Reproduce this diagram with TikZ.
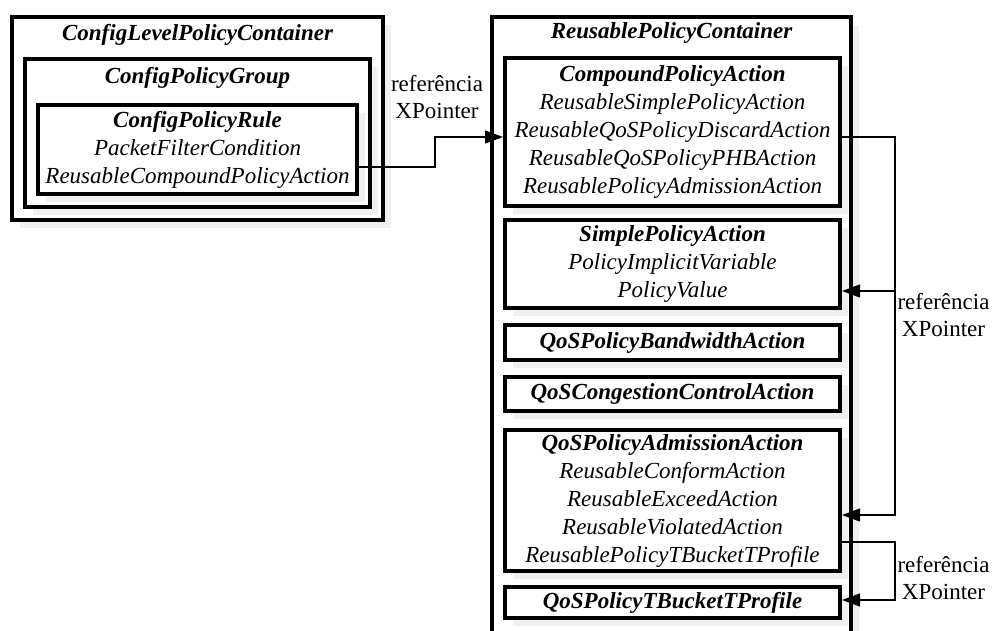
\documentclass[tikz,border=0pt]{standalone}
\usepackage{fontspec}
\setmainfont{Liberation Serif}
\usetikzlibrary{arrows.meta,shadows,calc}
\tikzset{
  box/.style={draw, line width=4pt, fill=white, inner sep=0pt, align=center,
    font=\fontsize{23}{28}\selectfont\itshape,
    drop shadow={shadow xshift=8pt, shadow yshift=-8pt, fill=black!6, opacity=1}},
  ttl/.style={font=\fontsize{23}{28}\selectfont\bfseries\itshape, inner sep=0pt},
  conn/.style={line width=1.3pt},
  arr/.style={conn, -{Triangle[length=18pt,width=13pt]}},
  lbl/.style={align=center, font=\fontsize{23}{27}\selectfont, inner sep=0pt}
}
\begin{document}
\begin{tikzpicture}[x=1pt,y=-1pt]
\useasboundingbox (0,0) rectangle (992,631);
% left side
\node[box, minimum width=371pt, minimum height=203pt] (lcont) at (197.5,118.5) {};
\node[ttl] (lcontt) at (197.5,35) {ConfigLevelPolicyContainer};
\node[box, minimum width=345pt, minimum height=148pt] (grp) at (197.5,133) {};
\node[ttl] (grpt) at (197.5,78) {ConfigPolicyGroup};
\node[box, minimum width=319pt, minimum height=89pt] (rule) at (197.5,149.5)
  {\textbf{ConfigPolicyRule}\\PacketFilterCondition\\ReusableCompoundPolicyAction};
% right side
\node[box, minimum width=359pt, minimum height=643pt] (rcont) at (671.5,338.5) {};
\node[ttl] (rcontt) at (671.5,33) {ReusablePolicyContainer};
\node[box, minimum width=335pt, minimum height=148pt] (cpa) at (672.5,132)
  {\textbf{CompoundPolicyAction}\\ReusableSimplePolicyAction\\ReusableQoSPolicyDiscardAction\\ReusableQoSPolicyPHBAction\\ReusablePolicyAdmissionAction};
\node[box, minimum width=335pt, minimum height=88pt] (spa) at (672.5,264)
  {\textbf{SimplePolicyAction}\\PolicyImplicitVariable\\PolicyValue};
\node[box, minimum width=335pt, minimum height=35pt] (bw) at (672.5,342.5)
  {\textbf{QoSPolicyBandwidthAction}};
\node[box, minimum width=335pt, minimum height=34pt] (cc) at (672.5,394)
  {\textbf{QoSCongestionControlAction}};
\node[box, minimum width=335pt, minimum height=141pt] (adm) at (672.5,500.5)
  {\textbf{QoSPolicyAdmissionAction}\\ReusableConformAction\\ReusableExceedAction\\ReusableViolatedAction\\ReusablePolicyTBucketTProfile};
\node[box, minimum width=335pt, minimum height=31pt] (tb) at (672.5,602.5)
  {\textbf{QoSPolicyTBucketTProfile}};
% connectors
\draw[arr] ($(rule.east)+(0,17.5)$) -- ++(76,0) |- ($(cpa.west)+(0,5)$);
\coordinate (s1) at ($(spa.east)+(0,27)$);
\draw[arr] ($(cpa.east)+(0,5)$) -- ++(53,0) coordinate (v1) |- ($(adm.east)+(0,14.5)$);
\draw[arr] (v1 |- s1) -- (s1);
\draw[arr] ($(adm.east)+(0,41.5)$) -- ++(53,0) |- ($(tb.east)+(0,-2.5)$);
% labels
\node[lbl] (l1) at (437,97) {referência\\XPointer};
\node[lbl] (l2) at (943.5,315) {referência\\XPointer};
\node[lbl] (l3) at (943.5,578) {referência\\XPointer};
\end{tikzpicture}
\end{document}
